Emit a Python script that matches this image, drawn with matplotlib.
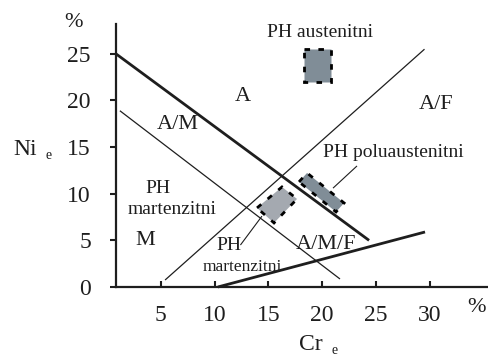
"""Schaeffler-type diagram with PH stainless steel regions."""

import matplotlib.pyplot as plt
from matplotlib.patches import Polygon

plt.rcParams["font.family"] = ["Liberation Serif", "DejaVu Serif"]

# boundary lines (Cr_e, Ni_e) end points
thick_am = [(0.84, 25.0), (24.35, 5.0)]
thin_m = [(1.2, 18.9), (21.65, 0.86)]
thin_af = [(5.4, 0.75), (29.5, 25.5)]
thick_f = [(10.3, 0.0), (29.55, 5.9)]

# steel regions (corner points)
austenitni = [(18.3, 25.5), (20.8, 25.5), (20.8, 22.0), (18.3, 22.0)]
poluaustenitni = [(17.84, 11.27), (18.59, 12.23), (22.03, 9.01), (21.28, 8.05)]
martenzitni = [(13.94, 8.48), (16.26, 10.73), (17.66, 9.44), (15.52, 6.87)]

# leader lines
leader_polu = [(23.23, 12.98), (21.0, 10.6)]
leader_mart = [(14.4, 7.6), (12.4, 4.5)]

x_ticks = [5, 10, 15, 20, 25, 30]
y_ticks = [0, 5, 10, 15, 20, 25]

ink = "#1e1e1e"

fig = plt.figure(figsize=(4.88, 3.58), dpi=100)
ax = fig.add_axes([116 / 488, 71 / 358, 372 / 488, 263 / 358])
ax.set_xlim(0.84, 35.4)
ax.set_ylim(0, 28.2)

for seg, lw in [(thick_am, 2.0), (thin_m, 0.9), (thin_af, 0.9), (thick_f, 2.0),
                (leader_polu, 0.8), (leader_mart, 0.8)]:
    xs, ys = zip(*seg)
    ax.plot(xs, ys, color=ink, lw=lw, solid_capstyle="butt", clip_on=False)

for pts, fc in [(austenitni, "#808d97"), (poluaustenitni, "#808d97"),
                (martenzitni, "#a4a9b0")]:
    ax.add_patch(Polygon(pts, closed=True, facecolor=fc, edgecolor="black",
                         lw=2.0, linestyle=(0, (2, 3)), zorder=3))

for s in ["top", "right"]:
    ax.spines[s].set_visible(False)
for s in ["left", "bottom"]:
    ax.spines[s].set_linewidth(1.6)
    ax.spines[s].set_color(ink)

ax.set_xticks(x_ticks)
ax.set_yticks(y_ticks)
ax.set_xticklabels([str(v) for v in x_ticks])
ax.set_yticklabels([str(v) for v in y_ticks])
ax.tick_params(axis="x", direction="in", length=4, width=1.5, pad=13,
               labelsize=17, colors=ink)
ax.tick_params(axis="y", direction="out", length=4, width=1.5, pad=14,
               labelsize=17, colors=ink)

# region labels
ax.text(12.64, 20.4, "A", fontsize=16, ha="center", va="center", color=ink)
ax.text(6.6, 17.4, "A/M", fontsize=16, ha="center", va="center", color=ink)
ax.text(30.6, 19.6, "A/F", fontsize=16, ha="center", va="center", color=ink)
ax.text(3.53, 4.94, "M", fontsize=16, ha="center", va="center", color=ink)
ax.text(20.35, 4.6, "A/M/F", fontsize=16, ha="center", va="center", color=ink)

# steel labels
ax.text(19.8, 27.25, "PH austenitni", fontsize=14, ha="center", va="center", color=ink)
ax.text(26.6, 14.4, "PH poluaustenitni", fontsize=14, ha="center", va="center", color=ink)
ax.text(4.74, 10.6, "PH", fontsize=14, ha="center", va="center", color=ink)
ax.text(6.04, 8.26, "martenzitni", fontsize=14, ha="center", va="center", color=ink)
ax.text(11.3, 4.5, "PH", fontsize=14, ha="center", va="center", color=ink)
ax.text(12.6, 2.1, "martenzitni", fontsize=12.5, ha="center", va="center", color=ink)

# axis titles
ax.text(-3.07, 28.4, "%", fontsize=16, ha="center", va="center", color=ink, clip_on=False)
ax.text(-7.6, 14.7, "Ni", fontsize=17, ha="center", va="center", color=ink, clip_on=False)
ax.text(-5.4, 14.05, "e", fontsize=10, ha="center", va="center", color=ink, clip_on=False)
ax.text(34.35, -2.25, "%", fontsize=16, ha="center", va="center", color=ink, clip_on=False)
ax.text(18.96, -6.2, "Cr", fontsize=17, ha="center", va="center", color=ink, clip_on=False)
ax.text(21.1, -6.8, "e", fontsize=10, ha="center", va="center", color=ink, clip_on=False)

fig.savefig("out.png", dpi=100)
